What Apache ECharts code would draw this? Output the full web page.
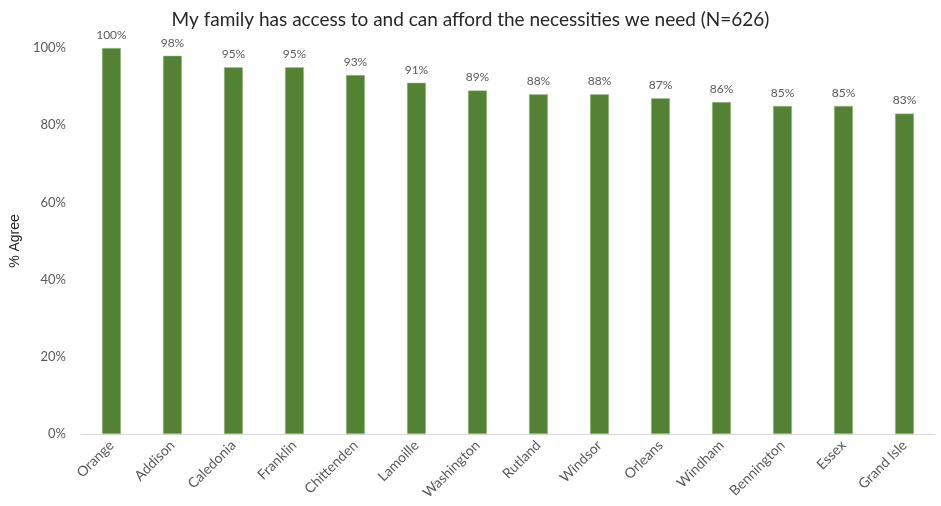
<!DOCTYPE html>
<html>
<head>
<meta charset="utf-8">
<script src="https://cdn.jsdelivr.net/npm/echarts@6/dist/echarts.min.js"></script>
<style>
  html, body { margin: 0; padding: 0; background: #fff; }
  #chart { width: 941px; height: 506px; }
</style>
</head>
<body>
<div id="chart"></div>
<script>
// Share of respondents agreeing, by county
const counties = ['Orange', 'Addison', 'Caledonia', 'Franklin', 'Chittenden', 'Lamoille',
  'Washington', 'Rutland', 'Windsor', 'Orleans', 'Windham', 'Bennington', 'Essex', 'Grand Isle'];
const agreePct = [100, 98, 95, 95, 93, 91, 89, 88, 88, 87, 86, 85, 85, 83];
const yTicks = [0, 20, 40, 60, 80, 100];

const FONT = 'Lato, "Open Sans", sans-serif';

const chart = echarts.init(document.getElementById('chart'));
chart.setOption({
  animation: false,
  backgroundColor: '#ffffff',
  title: {
    text: 'My family has access to and can afford the necessities we need (N=626)',
    left: 'center',
    top: 5,
    textStyle: { fontFamily: FONT, fontSize: 19, fontWeight: 'normal', color: '#262626' }
  },
  grid: { left: 79, right: 6, top: 48, bottom: 72, containLabel: false },
  xAxis: {
    type: 'category',
    data: counties,
    axisLine: { show: true, lineStyle: { color: '#d9d9d9', width: 1 } },
    axisTick: { show: false },
    axisLabel: {
      rotate: 45,
      interval: 0,
      margin: 9,
      fontFamily: FONT,
      fontSize: 14,
      color: '#595959'
    }
  },
  yAxis: {
    type: 'value',
    min: yTicks[0],
    max: yTicks[yTicks.length - 1],
    interval: yTicks[1] - yTicks[0],
    name: '% Agree',
    nameLocation: 'middle',
    nameGap: 50,
    nameRotate: 90,
    nameTextStyle: { fontFamily: 'Liberation Sans, Arial, sans-serif', fontSize: 14, color: '#262626' },
    splitLine: { show: false },
    axisLine: { show: false },
    axisTick: { show: false },
    axisLabel: {
      margin: 15,
      fontFamily: FONT,
      fontSize: 13,
      color: '#595959',
      formatter: '{value}%'
    }
  },
  series: [{
    type: 'bar',
    data: agreePct,
    barWidth: '31%',
    itemStyle: { color: '#548235', borderColor: '#a9c98f', borderWidth: 0.5 },
    label: {
      show: true,
      position: 'top',
      distance: 7,
      fontFamily: FONT,
      fontSize: 12,
      color: '#595959',
      formatter: '{c}%'
    }
  }]
});
</script>
</body>
</html>
